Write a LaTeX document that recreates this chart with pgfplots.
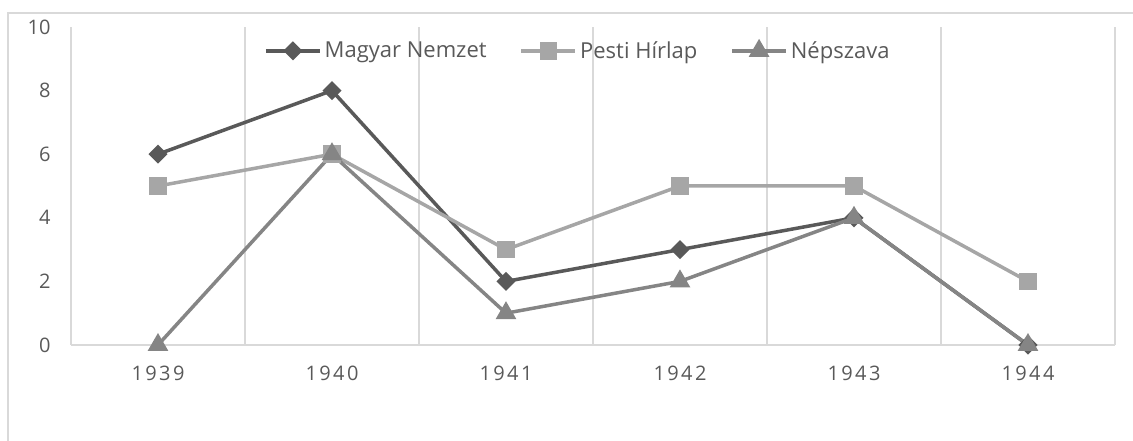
\documentclass[border=0pt]{standalone}
\usepackage{pgfplots}
\pgfplotsset{compat=1.18}
\usepackage{fontspec}
\setmainfont{Open Sans}
\newfontfamily\spacedfont[LetterSpace=12]{Open Sans}
\definecolor{mn}{HTML}{595959}
\definecolor{ph}{HTML}{A6A6A6}
\definecolor{np}{HTML}{858585}
\definecolor{gridc}{HTML}{D9D9D9}
\definecolor{txt}{HTML}{595959}
\begin{document}
\begin{tikzpicture}
\begin{axis}[
  scale only axis, width=1044pt, height=318pt,
  xmin=-0.5, xmax=5.5, ymin=0, ymax=10,
  clip=false,
  xtick={0,...,5},
  xticklabels={1939,1940,1941,1942,1943,1944},
  minor xtick={-0.5,0.5,...,5.5},
  xminorgrids,
  minor grid style={gridc, line width=1.3pt},
  ytick={0,2,...,10},
  axis line style={draw=none},
  major tick length=0pt, minor tick length=0pt,
  extra y ticks={0}, extra y tick labels={},
  extra y tick style={ymajorgrids=true, major grid style={gridc, line width=1.3pt}},
  /pgf/number format/assume math mode=true,
  yticklabel style={font=\fontsize{20}{22}\selectfont, text=txt, xshift=-17pt},
  xticklabel style={font=\fontsize{20}{22}\spacedfont, text=txt, yshift=-17pt},
  legend columns=3,
  legend style={draw=none, fill=none, at={(0.486,0.925)}, anchor=center,
    font=\fontsize{22}{24}\selectfont, text=txt,
    /tikz/every even column/.append style={column sep=30pt},
    nodes={inner sep=3pt}},
  legend image code/.code={\draw[mark repeat=2,mark phase=2,#1] plot coordinates {(0pt,0pt)(27pt,0pt)(54pt,0pt)};},
]
\addplot[mn, line width=3.5pt, mark=square*, mark size=5pt, mark options={rotate=45, solid}]
  coordinates {(0,6)(1,8)(2,2)(3,3)(4,4)(5,0)};
\addlegendentry{Magyar Nemzet}
\addplot[ph, line width=3.5pt, mark=square*, mark size=7pt, mark options={solid}]
  coordinates {(0,5)(1,6)(2,3)(3,5)(4,5)(5,2)};
\addlegendentry{Pesti Hírlap}
\addplot[np, line width=3.5pt, mark=triangle*, mark size=8.5pt, mark options={solid}]
  coordinates {(0,0)(1,6)(2,1)(3,2)(4,4)(5,0)};
\addlegendentry{Népszava}
\coordinate (O) at (rel axis cs:0,0);
\end{axis}
\draw[gridc, line width=1.3pt] ([shift={(-63pt,-110pt)}]O) -- ([shift={(-63pt,332pt)}]O) -- ([shift={(1080pt,332pt)}]O);
\pgfresetboundingbox
\path[use as bounding box] ([shift={(-71pt,-96pt)}]O) rectangle ([shift={(1062pt,345pt)}]O);
\end{tikzpicture}
\end{document}
